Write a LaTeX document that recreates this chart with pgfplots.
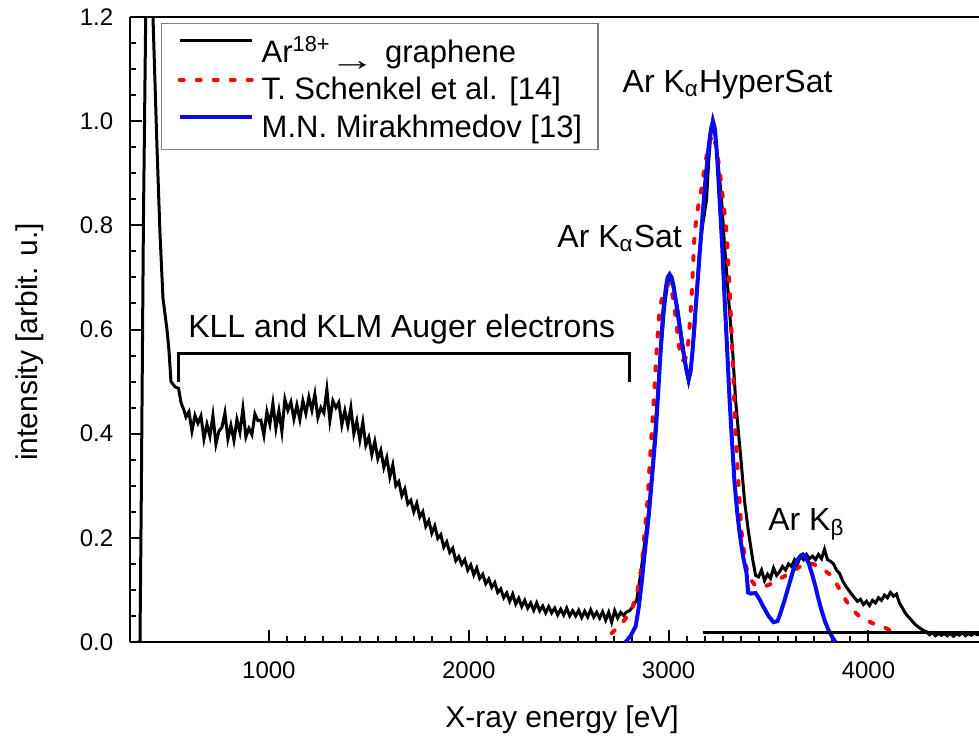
\documentclass[border=0pt]{standalone}
\usepackage{pgfplots}
\pgfplotsset{compat=1.18}
\usepackage{fontspec}
\setmainfont{Liberation Sans}
\definecolor{myred}{RGB}{255,0,0}
\definecolor{myblue}{RGB}{10,10,240}
\begin{document}
\begin{tikzpicture}
\begin{axis}[
  name=ax,
  scale only axis,
  width=339.6pt, height=250pt,
  xmin=305, xmax=4553, ymin=0, ymax=1.2,
  axis x line*=box, axis y line*=left,
  axis line style={line width=1pt},
  xtick pos=left, ytick pos=left,
  tick align=inside,
  xtick={1000,2000,3000,4000},
  ytick={0,0.2,0.4,0.6,0.8,1.0,1.2},
  minor x tick num=10, minor y tick num=3,
  major tick length=4.7pt, minor tick length=2.4pt,
  every tick/.style={black, line width=0.8pt},
  /pgf/number format/assume math mode=true,
  xticklabel style={font=\fontsize{9.6}{11}\selectfont, yshift=-4.2pt, /pgf/number format/1000 sep={}},
  yticklabel style={font=\fontsize{9.6}{11}\selectfont, xshift=-3.2pt, /pgf/number format/.cd, fixed, fixed zerofill, precision=1},
  xlabel={X-ray energy [eV]},
  ylabel={intensity [arbit. u.]},
  xlabel style={font=\fontsize{12}{14}\selectfont, at={(axis description cs:0.509,-0.136)}, anchor=base},
  ylabel style={font=\fontsize{12}{14}\selectfont, at={(axis description cs:-0.1084,0.48)}, anchor=base},
  legend style={at={(axis description cs:0.0365,0.9904)}, anchor=north west, draw=gray, line width=0.6pt,
    font=\fontsize{12.4}{14}\selectfont, inner xsep=6.4pt, inner ysep=5pt, row sep=6pt,
    nodes={inner sep=0pt, text depth=0pt},
    /tikz/every odd column/.append style={column sep=3.2pt}},
  legend cell align=left,
  legend image code/.code={\draw[#1] (0pt,0.35em) -- (28.8pt,0.35em);},
]
% black: Ar18+ -> graphene
\addplot[black, line width=1.2pt] coordinates {
(340,0)(355,0)(362,0.3)(372,0.8)(385,1.25)(395,1.5)(410,1.4)(420,1.2)(440,0.95)(455,0.785)(470,0.66)(490,0.60)(500,0.56)(510,0.50)(530,0.49)(548,0.487)(560,0.46)(575,0.445)
(585,0.432)(600,0.442)(615,0.405)(630,0.435)(645,0.420)(660,0.434)(675,0.390)(690,0.418)(705,0.395)(720,0.435)(735,0.380)(750,0.405)(765,0.412)(780,0.440)(795,0.390)
(810,0.416)(825,0.387)(840,0.427)(855,0.403)(870,0.448)(885,0.394)(900,0.410)(915,0.398)(930,0.438)(945,0.425)(960,0.426)(975,0.397)(990,0.442)
(1005,0.418)(1020,0.458)(1035,0.410)(1050,0.444)(1065,0.404)(1080,0.466)(1095,0.445)(1110,0.461)(1125,0.428)(1140,0.455)(1155,0.427)(1170,0.463)(1185,0.439)
(1200,0.470)(1215,0.445)(1230,0.476)(1245,0.431)(1260,0.450)(1275,0.440)(1290,0.485)(1305,0.425)(1320,0.463)(1335,0.450)(1350,0.460)(1365,0.417)(1380,0.444)(1395,0.416)
(1410,0.450)(1425,0.400)(1440,0.424)(1455,0.388)(1470,0.422)(1485,0.378)(1500,0.393)(1515,0.360)(1530,0.385)(1545,0.352)(1560,0.368)(1575,0.335)(1590,0.354)
(1605,0.317)(1620,0.340)(1635,0.300)(1650,0.308)(1665,0.281)(1680,0.294)(1695,0.265)(1710,0.272)(1725,0.250)(1740,0.266)(1755,0.240)(1770,0.250)(1785,0.222)
(1800,0.233)(1815,0.209)(1830,0.223)(1845,0.199)(1860,0.206)(1875,0.182)(1890,0.192)(1905,0.172)(1920,0.180)(1935,0.156)(1950,0.164)(1965,0.149)(1980,0.158)(1995,0.138)
(2010,0.148)(2025,0.129)(2040,0.142)(2055,0.122)(2070,0.130)(2085,0.112)(2100,0.121)(2115,0.105)(2130,0.114)(2145,0.095)(2160,0.102)(2175,0.085)(2190,0.094)
(2205,0.078)(2220,0.092)(2235,0.073)(2250,0.084)(2265,0.068)(2280,0.080)(2295,0.065)(2310,0.075)(2325,0.061)(2340,0.075)(2355,0.060)(2370,0.069)(2385,0.056)
(2400,0.068)(2415,0.056)(2430,0.065)(2445,0.052)(2460,0.063)(2475,0.052)(2490,0.065)(2505,0.050)(2520,0.060)(2535,0.050)(2550,0.061)(2565,0.047)(2580,0.059)(2595,0.048)
(2610,0.062)(2625,0.048)(2640,0.057)(2655,0.046)(2670,0.058)(2685,0.042)(2700,0.057)(2715,0.038)(2730,0.060)(2745,0.046)(2760,0.057)(2775,0.051)(2790,0.058)
(2805,0.060)(2820,0.068)(2840,0.080)(2860,0.130)(2880,0.190)(2900,0.250)(2920,0.337)(2940,0.450)(2955,0.530)(2970,0.600)(2980,0.645)(2995,0.690)(3005,0.700)(3015,0.695)
(3030,0.670)(3045,0.640)(3060,0.600)(3075,0.560)(3090,0.520)(3100,0.500)(3110,0.520)(3120,0.560)(3130,0.600)(3145,0.700)(3155,0.750)(3170,0.800)(3190,0.850)
(3200,0.920)(3210,0.970)(3220,1.000)(3230,0.980)(3245,0.930)(3265,0.850)(3280,0.760)(3300,0.660)(3320,0.560)(3335,0.465)(3350,0.400)(3365,0.337)(3380,0.270)
(3400,0.210)(3420,0.160)(3435,0.128)(3450,0.125)(3465,0.138)(3480,0.118)(3495,0.130)(3510,0.122)(3525,0.142)(3540,0.128)(3555,0.135)(3570,0.145)(3585,0.138)
(3600,0.150)(3615,0.145)(3630,0.158)(3645,0.150)(3660,0.165)(3675,0.158)(3690,0.168)(3705,0.160)(3720,0.165)(3735,0.158)(3750,0.168)(3765,0.160)(3780,0.178)
(3795,0.158)(3810,0.155)(3825,0.150)(3840,0.138)(3855,0.132)(3870,0.118)(3885,0.108)(3900,0.100)(3915,0.092)(3930,0.085)(3945,0.078)(3960,0.082)(3975,0.072)
(3990,0.078)(4005,0.070)(4020,0.080)(4035,0.075)(4050,0.085)(4065,0.080)(4080,0.090)(4095,0.085)(4110,0.095)(4125,0.088)(4140,0.092)(4155,0.075)(4170,0.065)
(4185,0.055)(4200,0.048)(4215,0.042)(4230,0.035)(4245,0.030)(4260,0.026)(4275,0.022)(4290,0.020)(4305,0.014)(4320,0.018)(4335,0.012)(4350,0.017)(4365,0.013)
(4380,0.016)(4395,0.012)(4410,0.017)(4425,0.011)(4440,0.016)(4455,0.013)(4470,0.018)(4485,0.012)(4500,0.016)(4515,0.013)(4530,0.017)(4545,0.014)(4560,0.015)
};
\addlegendentry{Ar\textsuperscript{18+}\kern-0.05em\raisebox{-0.28em}{\scalebox{1.5}[1]{→}}\hspace{0.3em}graphene}
% red dashed: Schenkel
\addplot[myred, line width=1.6pt, line cap=round, dash pattern=on 1.6pt off 5.2pt] coordinates {
(2715,0.017)(2745,0.028)(2770,0.038)(2795,0.05)(2820,0.067)(2845,0.10)(2865,0.145)(2880,0.21)(2895,0.273)(2905,0.34)(2915,0.40)(2930,0.49)(2940,0.56)
(2955,0.64)(2970,0.665)(2985,0.68)(3005,0.69)(3020,0.665)(3030,0.64)(3045,0.59)(3055,0.56)(3070,0.54)(3085,0.545)(3100,0.58)(3115,0.66)(3130,0.786)
(3145,0.83)(3160,0.86)(3180,0.91)(3200,0.955)(3220,0.975)(3240,0.95)(3260,0.89)(3275,0.84)(3290,0.786)(3305,0.68)(3315,0.594)(3325,0.50)(3335,0.40)
(3350,0.30)(3365,0.21)(3385,0.15)(3400,0.126)(3430,0.11)(3455,0.106)(3490,0.108)(3520,0.113)(3560,0.122)(3605,0.132)(3645,0.142)(3685,0.152)(3720,0.15)
(3750,0.145)(3785,0.136)(3820,0.126)(3850,0.105)(3885,0.081)(3920,0.062)(3955,0.049)(3990,0.042)(4020,0.036)(4055,0.031)(4085,0.027)(4120,0.02)(4150,0.013)
};
\addlegendentry{T. Schenkel et al. [14]}
% blue: Mirakhmedov
\addplot[myblue, line width=1.6pt] coordinates {
(2785,0)(2810,0.012)(2835,0.03)(2850,0.065)(2865,0.113)(2880,0.17)(2900,0.24)(2918,0.32)(2935,0.40)(2948,0.48)(2960,0.56)(2972,0.63)(2985,0.677)(2995,0.70)
(3005,0.706)(3015,0.70)(3025,0.683)(3040,0.645)(3055,0.606)(3068,0.57)(3080,0.542)(3090,0.52)(3100,0.504)(3110,0.52)(3120,0.56)(3133,0.63)(3145,0.69)
(3158,0.76)(3170,0.82)(3185,0.89)(3200,0.95)(3212,0.985)(3222,1.0)(3232,0.985)(3243,0.93)(3255,0.85)(3268,0.76)(3280,0.66)(3293,0.56)(3305,0.465)
(3318,0.38)(3330,0.305)(3343,0.25)(3355,0.21)(3372,0.165)(3390,0.132)(3398,0.095)(3410,0.093)(3435,0.094)(3455,0.082)(3475,0.067)(3500,0.05)(3525,0.038)
(3545,0.04)(3560,0.056)(3580,0.08)(3605,0.113)(3625,0.14)(3645,0.158)(3660,0.165)(3672,0.168)(3685,0.163)(3700,0.152)(3718,0.13)(3735,0.106)(3750,0.082)
(3765,0.061)(3782,0.04)(3800,0.023)(3818,0.01)(3835,0.0)
};
\addlegendentry{M.N. Mirakhmedov [13]}
% baseline segment and bracket
\addplot[black, line width=1.2pt, forget plot] coordinates {(3170,0.018)(4560,0.018)};
\addplot[black, line width=1.2pt, forget plot] coordinates {(550,0.50)(550,0.553)(2805,0.553)(2805,0.50)};
\node[font=\fontsize{12.8}{14}\selectfont, anchor=base] at (axis cs:1665,0.585) {KLL and KLM Auger electrons};
\node[font=\fontsize{12.8}{14}\selectfont, anchor=base] at (axis cs:2755,0.758) {Ar K\textsubscript{α}Sat};
\node[font=\fontsize{12.8}{14}\selectfont, anchor=base] at (axis cs:3295,1.056) {Ar K\textsubscript{α}HyperSat};
\node[font=\fontsize{12.8}{14}\selectfont, anchor=base] at (axis cs:3690,0.215) {Ar K\textsubscript{β}};
\end{axis}
\pgfresetboundingbox
\path[use as bounding box] ([xshift=-52pt,yshift=-38.4pt]ax.south west) rectangle ([yshift=6.8pt]ax.north east);
\end{tikzpicture}
\end{document}
